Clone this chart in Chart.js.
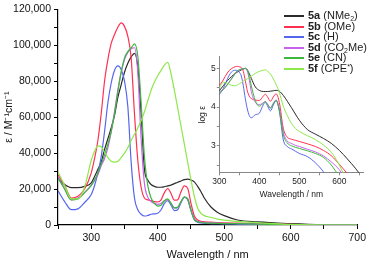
<!DOCTYPE html>
<html>
<head>
<meta charset="utf-8">
<script src="https://cdn.jsdelivr.net/npm/chart.js@4.4.1/dist/chart.umd.min.js"></script>
<style>
html, body { margin: 0; padding: 0; background: #fff; }
#wrap { position: relative; width: 369px; height: 265px; overflow: hidden; }
#mainChart { position: absolute; left: 0; top: 0; }
#insetChart { position: absolute; left: 190px; top: 50px; }
#legend { position: absolute; left: 284px; top: 10px; font: 11px "Liberation Sans", Arial, sans-serif; color: #222; }
.row { height: 10.6px; line-height: 10.6px; white-space: nowrap; }
.sw { display: inline-block; width: 20px; height: 2px; vertical-align: middle; margin-right: 4px; }
sub { font-size: 7px; vertical-align: -2px; line-height: 0; }
sup { font-size: 7px; vertical-align: 3px; line-height: 0; }
</style>
</head>
<body>
<div id="wrap">
  <canvas id="mainChart" width="369" height="265"></canvas>
  <canvas id="insetChart" width="179" height="150"></canvas>
  <div id="legend"></div>
</div>
<script>
// main spectrum, epsilon in M-1 cm-1
var wavelengths = [250,260,270,280,290,300,305,310,315,320,325,330,335,340,345,350,355,360,365,370,375,380,385,390,395,400,405,410,415,420,425,430,435,440,445,450,455,460,465,470,480,490,500,520,550,600,650,700];
var eps5a = [26000,22500,20800,20800,21500,23500,27000,31000,35000,42000,48000,54000,61000,71000,78000,85000,90000,93500,95500,88000,62000,31000,25000,22500,21500,21000,21000,21300,21800,22200,23000,23800,24500,25200,25500,25000,24000,21500,18500,15000,10000,7000,5200,2800,1700,750,150,0];
var eps5b = [28000,22000,15000,16000,20000,29000,37000,47000,62000,80000,92000,101000,106000,110000,112400,110500,105000,93000,62000,36000,21000,15000,14000,13600,13000,12800,14000,18000,20300,17500,13800,14000,18500,21800,20500,12000,5000,2800,2000,1800,1600,1400,1250,1050,750,320,0,0];
var eps5c = [19000,13000,8500,9000,12500,17000,22000,29000,38000,52000,68000,79000,86000,88500,86500,80000,66000,35000,15000,8500,6000,5000,5300,6000,6200,6500,8500,12000,13500,11000,8000,8500,12500,15500,14000,8000,3000,1500,1100,950,820,720,620,520,280,0,0,0];
var eps5d = [27000,20000,14000,15000,18000,22000,25000,28000,33000,37000,43000,52000,63000,75000,85000,92000,96000,98000,98600,85000,48000,23000,15500,13000,12000,11500,12000,13500,14000,12000,9500,9800,13000,15500,14500,8500,3500,2000,1600,1400,1200,1050,950,800,600,220,0,0];
var eps5e = [26000,20000,14000,14500,18000,22000,25000,29000,34000,39000,45000,52000,62000,74000,85000,93000,96500,98500,100800,94000,68000,38000,22000,15000,12000,10500,11000,13500,14500,12000,9500,9800,13000,15500,14500,8000,3000,1800,1400,1200,1000,900,820,720,520,120,0,0];
var eps5f = [29500,22000,14500,14500,21000,36000,41000,44000,43500,40500,37500,35500,35000,35500,37500,40000,43000,47000,50500,54000,58000,63000,69000,75000,79500,83000,86000,89000,90500,84000,75000,65000,55000,45000,35000,25000,16000,9500,6500,5200,4200,3300,2700,2000,1300,320,0,0];

// inset, log epsilon
var insetWl = [300,310,320,330,340,345,350,355,360,365,370,375,380,390,400,410,415,420,428,435,442,450,460,470,480,490,500,520,540,560,580,600,620,640,660];
var log5a = [4.42,4.55,4.68,4.78,4.87,4.90,4.93,4.96,4.98,5.00,4.96,4.86,4.74,4.52,4.43,4.40,4.40,4.40,4.41,4.42,4.43,4.41,4.30,4.15,3.99,3.82,3.66,3.42,3.30,3.19,3.06,2.88,2.66,2.42,2.15];
var log5b = [4.55,4.70,4.88,4.99,5.04,5.05,5.04,5.02,4.92,4.68,4.42,4.28,4.22,4.18,4.17,4.28,4.33,4.27,4.15,4.26,4.34,4.12,3.45,3.22,3.17,3.14,3.11,3.05,2.98,2.88,2.74,2.52,2.28,null,null];
var log5c = [4.32,4.48,4.72,4.90,4.95,4.94,4.90,4.80,4.55,4.22,3.95,3.78,3.72,3.80,3.84,4.06,4.12,4.04,3.90,4.05,4.17,3.90,3.15,2.98,2.92,2.86,2.80,2.72,2.56,2.33,2.00,null,null,null,null];
var log5d = [4.40,4.45,4.57,4.72,4.87,4.92,4.96,4.98,4.99,4.99,4.93,4.70,4.40,4.12,4.06,4.11,4.14,4.08,3.98,4.10,4.18,3.95,3.35,3.12,3.06,3.01,2.98,2.91,2.84,2.74,2.58,2.38,2.05,null,null];
var log5e = [4.36,4.45,4.58,4.72,4.87,4.93,4.96,4.98,4.99,5.00,4.96,4.80,4.55,4.17,4.02,4.10,4.14,4.08,3.97,4.08,4.17,3.92,3.28,3.07,3.00,2.96,2.93,2.87,2.80,2.70,2.50,2.20,null,null,null];
var log5f = [4.48,4.64,4.61,4.56,4.55,4.57,4.60,4.63,4.67,4.70,4.73,4.77,4.80,4.87,4.92,4.95,4.96,4.93,4.85,4.73,4.58,4.38,4.02,3.78,3.58,3.45,3.37,3.26,3.16,3.02,2.83,2.50,2.05,null,null];

var names = ['5a','5b','5c','5d','5e','5f'];
var subsHtml = ['(NMe<sub>2</sub>)','(OMe)','(H)','(CO<sub>2</sub>Me)','(CN)','(CPE<sup>*</sup>)'];

var mainXTicks = [250,300,350,400,450,500,550,600,650,700];
var mainYTicks = [0,10000,20000,30000,40000,50000,60000,70000,80000,90000,100000,110000,120000];
var insetXTicks = [300,350,400,450,500,550,600,650];
var insetYTicks = [2.5,3,3.5,4,4.5,5];

var colors = ['#2b2b2b','#ff3050','#5566ee','#c860f0','#3cb83c','#8de84a'];
var FONT = '"Liberation Sans", Arial, sans-serif';

function pts(xs, ys){
    var out = [];
    for(var i = 0; i < xs.length; i++){
        out.push({x: xs[i], y: ys[i]});
    }
    return out;
}

var mainSets = [eps5a, eps5b, eps5c, eps5d, eps5e, eps5f];
var insetSets = [log5a, log5b, log5c, log5d, log5e, log5f];

// draw the last dataset (5a) on top, like the original
var mainDatasets = [];
var insetDatasets = [];
for(var i = 5; i >= 0; i--){
    mainDatasets.push({
        label: names[i],
        data: pts(wavelengths, mainSets[i]),
        borderColor: colors[i],
        borderWidth: 1.2,
        pointRadius: 0,
        fill: false,
        cubicInterpolationMode: 'monotone'
    });
    insetDatasets.push({
        label: names[i],
        data: pts(insetWl, insetSets[i]),
        borderColor: colors[i],
        borderWidth: 1,
        pointRadius: 0,
        fill: false,
        spanGaps: false,
        cubicInterpolationMode: 'monotone'
    });
}

function setTicks(arr){
    return function(scale){
        scale.ticks = arr.map(function(v){ return {value: v}; });
    };
}

new Chart(document.getElementById('mainChart'), {
    type: 'line',
    data: { datasets: mainDatasets },
    options: {
        responsive: false,
        animation: false,
        layout: { padding: { top: 8, right: 10, left: 0, bottom: 0 } },
        plugins: { legend: { display: false }, tooltip: { enabled: false } },
        scales: {
            x: {
                type: 'linear',
                min: 250,
                max: 700,
                afterBuildTicks: setTicks(mainXTicks),
                afterFit: function(s){ s.height = 40; },
                grid: { drawOnChartArea: false, drawTicks: true, tickLength: 4, color: '#000' },
                border: { color: '#000', width: 1.2 },
                ticks: {
                    color: '#111',
                    font: { family: FONT, size: 10.5 },
                    padding: 3,
                    maxRotation: 0,
                    autoSkip: false,
                    callback: function(v){ return v % 100 === 0 && v > 250 ? String(v) : ''; }
                },
                title: { display: true, text: 'Wavelength / nm', color: '#111', font: { family: FONT, size: 11 }, padding: { top: 0, bottom: 3 } }
            },
            y: {
                min: 0,
                max: 120000,
                afterBuildTicks: setTicks(mainYTicks),
                afterFit: function(s){ s.width = 58; },
                grid: { drawOnChartArea: false, drawTicks: true, tickLength: 4, color: '#000' },
                border: { color: '#000', width: 1.2 },
                ticks: {
                    color: '#111',
                    font: { family: FONT, size: 10.5 },
                    padding: 3,
                    autoSkip: false,
                    callback: function(v){ return v % 20000 === 0 ? v.toLocaleString('en-US') : ''; }
                },
                title: { display: true, text: 'ε / M⁻¹cm⁻¹', color: '#111', font: { family: FONT, size: 10.5 }, padding: { top: 3, bottom: 0 } }
            }
        }
    }
});

new Chart(document.getElementById('insetChart'), {
    type: 'line',
    data: { datasets: insetDatasets },
    options: {
        responsive: false,
        animation: false,
        layout: { padding: { top: 6.7, right: 5.7, left: 0, bottom: 0 } },
        plugins: { legend: { display: false }, tooltip: { enabled: false } },
        scales: {
            x: {
                type: 'linear',
                min: 300,
                max: 660,
                afterBuildTicks: setTicks(insetXTicks),
                afterFit: function(s){ s.height = 27.2; },
                grid: { drawOnChartArea: false, drawTicks: true, tickLength: 2.5, color: '#888' },
                border: { color: '#888', width: 1 },
                ticks: {
                    color: '#222',
                    font: { family: FONT, size: 8.5 },
                    padding: 1,
                    maxRotation: 0,
                    autoSkip: false,
                    callback: function(v){ return v % 100 === 0 ? String(v) : ''; }
                },
                title: { display: true, text: 'Wavelength / nm', color: '#222', font: { family: FONT, size: 8.5 }, padding: { top: 0, bottom: 0 } }
            },
            y: {
                min: 2.3,
                max: 5.3,
                afterBuildTicks: setTicks(insetYTicks),
                afterFit: function(s){ s.width = 29.3; },
                grid: { drawOnChartArea: false, drawTicks: true, tickLength: 2.5, color: '#888' },
                border: { color: '#888', width: 1 },
                ticks: {
                    color: '#222',
                    font: { family: FONT, size: 8.5 },
                    padding: 1,
                    autoSkip: false,
                    callback: function(v){ return Number.isInteger(v) ? String(v) : ''; }
                },
                title: { display: true, text: 'log ε', color: '#222', font: { family: FONT, size: 8.5 }, padding: { top: 8, bottom: 0 } }
            }
        }
    }
});

var legend = document.getElementById('legend');
for(var k = 0; k < names.length; k++){
    var row = document.createElement('div');
    row.className = 'row';
    row.innerHTML = '<span class="sw" style="background:' + colors[k] + '"></span><b>' + names[k] + '</b> ' + subsHtml[k];
    legend.appendChild(row);
}
</script>
</body>
</html>
